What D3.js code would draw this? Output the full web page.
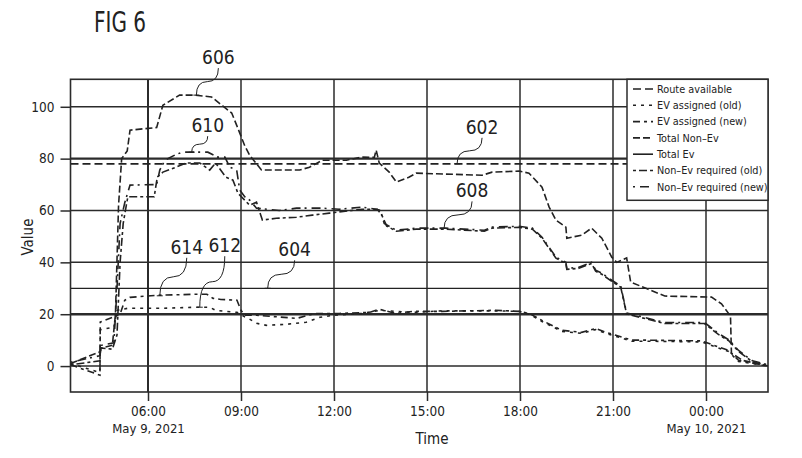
<!DOCTYPE html>
<html>
<head>
<meta charset="utf-8">
<script src="https://cdn.jsdelivr.net/npm/d3@7"></script>
<style>
body { margin: 0; background: #fff; }
svg text { font-family: "Liberation Sans Narrow", "DejaVu Sans", sans-serif; font-stretch: condensed; fill: #222; }
</style>
</head>
<body>
<svg id="chart" width="802" height="458"></svg>
<script>
// hours counted from May 9, 2021 00:00 (values past 24 are May 10)
var routeAvailable = [[3.5, 78], [26, 78]];
var totalEv = [[3.5, 30], [26, 30]];

var totalNonEv = [[3.5,1],[4.45,5.5],[4.5,7],[4.85,8],[4.95,20],[5.05,62],[5.15,80],[5.33,83],[5.42,91],[6.28,92],
    [6.48,100.6],[7.02,104.5],[7.51,104.5],[8.05,103.8],[8.38,100.6],[8.7,97.6],[8.89,92],[9.12,85],[9.28,81.3],
    [9.66,75.6],[10.89,75.6],[11.21,76.7],[11.63,79.4],[12.4,79.4],[12.91,80.6],[13.3,80.5],[13.36,83.3],[13.46,78.3],
    [13.78,74.8],[14.01,71],[14.43,72.9],[14.65,74.4],[16.78,73.6],[17.1,74.8],[17.97,75.2],[18.29,74.4],[18.71,69],
    [18.94,61.3],[19.16,56.3],[19.48,53.6],[19.51,49.3],[19.99,50.5],[20.31,53.2],[20.64,49.3],[20.96,42],[21.12,40],
    [21.44,41.7],[21.57,32.4],[22.12,29.7],[22.67,27],[24.18,26.6],[24.5,24],[24.79,19.3],[24.82,5],[25.18,2.2],[26,0]];

var nonEvRequiredNew = [[3.5,1.5],[4.45,4],[4.5,8],[4.9,9],[5.0,30],[5.1,55],[5.25,63],[5.42,69.8],[6.28,70],[6.38,75.6],
    [6.55,79.4],[6.87,81.4],[7.1,82.5],[7.93,82.5],[8.25,80.6],[8.48,80.6],[8.64,76.7],[8.86,75.6],[8.96,67.9],[9.12,65.3],
    [9.28,64],[9.5,60.9],[10.24,60],[10.79,60.9],[11.62,60.9],[12.17,60.5],[12.91,61.3],[13.36,60.5],[13.5,60],[13.62,55],
    [14.01,52.4],[14.65,53.2],[15.6,53.2],[16.85,52.4],[17.1,53.6],[17.97,53.9],[18.4,53.2],[18.71,49.7],[18.94,45.8],
    [19.16,42],[19.48,40],[19.51,37.7],[19.9,38.1],[20.31,40],[20.44,37],[20.64,35.8],[20.96,33.1],[21.25,30.8],[21.44,20.5],
    [22.67,16.8],[23.95,16.8],[24.4,12.6],[24.75,10],[25.05,6],[25.5,2],[26,0.5]];

var nonEvRequiredOld = [[3.5,0.5],[4.45,2],[4.46,7],[4.85,6.5],[5.0,12],[5.1,40],[5.2,55],[5.3,62],[5.35,65.3],[6.2,65.3],
    [6.3,72.9],[6.48,74.8],[6.9,76.7],[7.22,78.3],[7.67,78.3],[7.99,75.6],[8.18,78.3],[8.51,72.9],[8.74,71.7],[8.9,66.7],
    [9.12,64],[9.28,62],[9.5,63.2],[9.69,56.3],[10.14,57],[10.79,57.4],[11.3,58.2],[11.85,59],[12.91,60.5],[13.4,60.5],
    [13.55,58],[13.7,54],[14.01,52],[14.65,52.8],[15.6,52.8],[16.85,52],[17.1,53.2],[17.97,53.5],[18.4,52.8],[18.71,49.3],
    [18.94,45.4],[19.16,41.6],[19.48,39.6],[19.51,37.3],[19.9,37.7],[20.31,39.6],[20.44,36.6],[20.64,35.4],[20.96,32.7],
    [21.25,30.4],[21.44,20.1],[22.67,16.4],[23.95,16.4],[24.4,12.2],[24.75,9.6],[25.05,5.6],[25.5,1.6],[26,0.2]];

var evAssignedNew = [[3.5,0.5],[4.45,-3.5],[4.46,17],[4.9,19],[5.1,20],[5.25,25.4],[5.42,26.5],[6.28,27.3],[7.56,27.7],
    [7.9,27.7],[8.1,26.1],[8.35,25.7],[8.87,25.4],[9.0,21.5],[9.12,19.6],[9.5,19.6],[10.8,18.4],[11.4,20.3],[12.17,20.3],
    [13.14,20.7],[13.46,21.9],[14.01,20.3],[14.53,21.1],[15.5,21.1],[17.2,21.5],[17.97,21.1],[18.3,20.3],[18.71,17.6],
    [19.35,13.8],[19.99,13],[20.44,14.5],[20.77,13],[21.09,11.9],[21.6,10],[22.1,10],[23.86,9.7],[24.73,6],[25.05,2.2],[26,0]];

var evAssignedOld = [[3.5,1],[4.45,-2.5],[4.46,14],[4.9,15],[5.0,21.5],[5.35,22.3],[6.5,22.3],[7.56,22.7],[7.99,22.7],
    [8.18,21.5],[8.87,20.7],[9.12,19],[9.18,18.8],[9.5,16.5],[9.82,15.7],[10.46,16.1],[11.1,16.9],[11.55,18.8],[11.97,19.6],
    [12.9,20.3],[13.5,21.5],[14.5,20.7],[15.5,21.3],[17.2,21.3],[17.97,21.1],[18.3,20],[18.71,17.2],[19.35,13.4],[19.99,12.6],
    [20.44,14.1],[20.77,12.6],[21.09,11.5],[21.6,9.6],[22.1,9.6],[23.86,9.3],[24.73,5.6],[25.05,1.8],[26,0]];

var seriesNames = ["Route available", "EV assigned (old)", "EV assigned (new)", "Total Non\u2013Ev",
    "Total Ev", "Non\u2013Ev required (old)", "Non\u2013Ev required (new)"];
var seriesData = [routeAvailable, evAssignedOld, evAssignedNew, totalNonEv, totalEv, nonEvRequiredOld, nonEvRequiredNew];
var seriesDash = ["8,4", "3,5", "7,4,3,4", "7,3", null, "3,3,8,3", "2,5,9,4"];

var yTicks = [0, 20, 40, 60, 80, 100];
var xTickHours = [6, 9, 12, 15, 18, 21, 24];
var dateLabels = { 6: "May 9, 2021", 24: "May 10, 2021" };

// reference numerals: anchor on the data, label offset in px
var callouts = [
    { id: "606", h: 7.56, v: 104.5, dx: 22, dy: -38 },
    { id: "610", h: 7.41, v: 82.5, dx: 16, dy: -27 },
    { id: "602", h: 15.97, v: 78, dx: 25, dy: -37 },
    { id: "608", h: 15.55, v: 53.1, dx: 28, dy: -38 },
    { id: "614", h: 6.38, v: 27.1, dx: 27, dy: -49 },
    { id: "612", h: 7.67, v: 22.7, dx: 25, dy: -62 },
    { id: "604", h: 9.86, v: 30, dx: 27, dy: -39 }
];

var day0 = new Date(2021, 4, 9, 0, 0);
function toDate(h) { return new Date(day0.getTime() + h * 3600e3); }

var svg = d3.select("#chart");
var plotL = 70.5, plotR = 768, plotT = 79.3, plotB = 392;

var x = d3.scaleTime().domain([toDate(3.5), toDate(26)]).range([plotL, plotR]);
var y = d3.scaleLinear().domain([-10, 110.6]).range([plotB, plotT]);

// title
svg.append("text").attr("x", 94).attr("y", 32)
    .attr("textLength", 52).attr("lengthAdjust", "spacingAndGlyphs")
    .style("font-size", "29px").text("FIG 6");

// grid
var grid = svg.append("g").attr("stroke", "#2b2b2b");
grid.selectAll(".hg").data(yTicks).enter().append("line")
    .attr("x1", plotL).attr("x2", plotR)
    .attr("y1", function (d) { return y(d); }).attr("y2", function (d) { return y(d); })
    .attr("stroke-width", function (d) { return d === 20 || d === 80 ? 2.4 : 1.5; });
grid.selectAll(".vg").data(xTickHours).enter().append("line")
    .attr("x1", function (d) { return x(toDate(d)); }).attr("x2", function (d) { return x(toDate(d)); })
    .attr("y1", plotT).attr("y2", plotB)
    .attr("stroke-width", function (d) { return d === 6 ? 2 : 1.5; });

// axes
var yAxis = svg.append("g").attr("transform", "translate(" + plotL + ",0)")
    .call(d3.axisLeft(y).tickValues(yTicks).tickSize(10).tickPadding(6));
var xAxis = svg.append("g").attr("transform", "translate(0," + plotB + ")")
    .call(d3.axisBottom(x).tickValues(xTickHours.map(toDate)).tickSize(9).tickPadding(5)
        .tickFormat(d3.timeFormat("%H:%M")));
[yAxis, xAxis].forEach(function (a) {
    a.select(".domain").remove();
    a.selectAll(".tick line").attr("stroke", "#2b2b2b").attr("stroke-width", 1.5);
    a.selectAll(".tick text").style("font-size", "13.5px").attr("fill", "#222");
});
xAxis.selectAll(".tick").each(function (d, i) {
    var lab = dateLabels[xTickHours[i]];
    if (lab) {
        d3.select(this).append("text").attr("y", 41).attr("fill", "#222")
            .style("font-size", "13px").attr("text-anchor", "middle").text(lab);
    }
});

svg.append("text").attr("transform", "translate(33,237) rotate(-90)")
    .attr("text-anchor", "middle").style("font-size", "15px").text("Value");
svg.append("text").attr("x", 432).attr("y", 444)
    .attr("text-anchor", "middle").style("font-size", "15px").text("Time");

// series
var line = d3.line()
    .x(function (d) { return x(toDate(d[0])); })
    .y(function (d) { return y(d[1]); });

svg.append("g").selectAll("path").data(seriesData).enter().append("path")
    .attr("d", line)
    .attr("fill", "none")
    .attr("stroke", "#222")
    .attr("stroke-width", function (d, i) { return i === 4 ? 1.3 : 1.6; })
    .attr("stroke-dasharray", function (d, i) { return seriesDash[i]; });

// frame
svg.append("rect").attr("x", plotL).attr("y", plotT)
    .attr("width", plotR - plotL).attr("height", plotB - plotT)
    .attr("fill", "none").attr("stroke", "#2b2b2b").attr("stroke-width", 1.6);

// legend
var legend = svg.append("g");
legend.append("rect").attr("x", 627).attr("y", plotT).attr("width", plotR - 627).attr("height", 121)
    .attr("fill", "#fff").attr("stroke", "#2b2b2b").attr("stroke-width", 1.5);
var row = legend.selectAll(".row").data(seriesNames).enter().append("g")
    .attr("transform", function (d, i) { return "translate(633," + (89 + i * 16.3) + ")"; });
row.append("line").attr("x1", 0).attr("x2", 20).attr("y1", 0).attr("y2", 0)
    .attr("stroke", "#222").attr("stroke-width", 1.6)
    .attr("stroke-dasharray", function (d, i) { return seriesDash[i]; });
row.append("text").attr("x", 24).attr("dy", "0.35em").style("font-size", "10.8px")
    .text(function (d) { return d; });

// callouts
var co = svg.append("g").selectAll("g").data(callouts).enter().append("g");
co.append("text")
    .attr("x", function (d) { return x(toDate(d.h)) + d.dx; })
    .attr("y", function (d) { return y(d.v) + d.dy + 7; })
    .attr("text-anchor", "middle").style("font-size", "19px")
    .text(function (d) { return d.id; });
co.append("path")
    .attr("fill", "none").attr("stroke", "#222").attr("stroke-width", 1)
    .attr("d", function (d) {
        var ex = x(toDate(d.h)), ey = y(d.v);
        var sx = ex + d.dx, sy = ey + d.dy + 11;
        var mx = (sx + ex) / 2, my = (sy + ey) / 2;
        return "M" + sx + "," + sy + "Q" + sx + "," + my + " " + mx + "," + my +
            "Q" + ex + "," + my + " " + ex + "," + ey +
            "M" + (ex - 3) + "," + ey + "L" + (ex + 3) + "," + ey;
    });
</script>
</body>
</html>
